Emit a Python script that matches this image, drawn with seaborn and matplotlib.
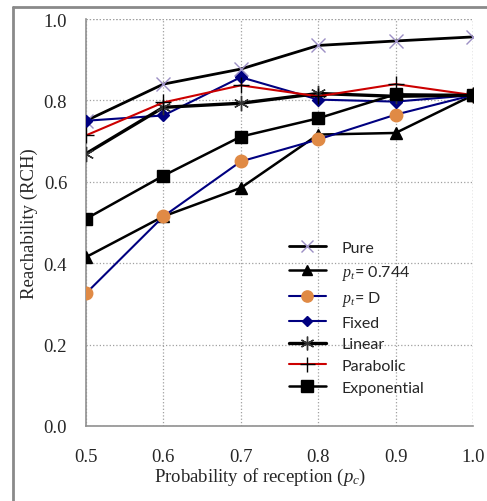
import matplotlib
matplotlib.use('Agg')
import matplotlib.pyplot as plt
import seaborn as sns
import pandas as pd
from matplotlib.lines import Line2D

# data
p_c = [0.5, 0.6, 0.7, 0.8, 0.9, 1.0]
pure = [0.750, 0.840, 0.877, 0.935, 0.946, 0.956]
pt_0744 = [0.415, 0.515, 0.585, 0.716, 0.720, 0.813]
pt_d = [0.326, 0.515, 0.650, 0.704, 0.765, 0.813]
fixed = [0.750, 0.763, 0.857, 0.802, 0.797, 0.813]
linear = [0.669, 0.783, 0.793, 0.817, 0.810, 0.813]
parabolic = [0.714, 0.795, 0.837, 0.810, 0.840, 0.813]
exponential = [0.509, 0.615, 0.711, 0.756, 0.815, 0.813]

series = {
    'Pure': pure,
    '$p_t$= 0.744': pt_0744,
    '$p_t$= D': pt_d,
    'Fixed': fixed,
    'Linear': linear,
    'Parabolic': parabolic,
    'Exponential': exponential,
}

styles = {
    'Pure': dict(color='black', lw=2.0, marker='x', ms=10, mec='#9c8fc4', mfc='#9c8fc4', mew=1.0),
    '$p_t$= 0.744': dict(color='black', lw=1.8, marker='^', ms=8, mec='black', mfc='black'),
    '$p_t$= D': dict(color='#000080', lw=1.5, marker='o', ms=9, mec='#e08a45', mfc='#e08a45'),
    'Fixed': dict(color='#000080', lw=1.5, marker='D', ms=6, mec='#000080', mfc='#000080'),
    'Linear': dict(color='black', lw=2.4, marker=(6, 2, 0), ms=11, mec='#333333', mew=1.0),
    'Parabolic': dict(color='#cc0000', lw=1.5, marker='+', ms=12, mec='black', mew=1.0),
    'Exponential': dict(color='black', lw=1.8, marker='s', ms=9, mec='black', mfc='black'),
}

df = pd.DataFrame([(k, x, y) for k, v in series.items() for x, y in zip(p_c, v)],
                  columns=['scheme', 'p_c', 'rch'])

sns.set_style('white')
plt.rcParams['font.family'] = ['Liberation Serif', 'DejaVu Serif']
plt.rcParams['mathtext.fontset'] = 'custom'
plt.rcParams['mathtext.it'] = 'Liberation Serif:italic'
plt.rcParams['mathtext.rm'] = 'Liberation Serif'

fig = plt.figure(figsize=(4.87, 5.02), dpi=100)
ax = fig.add_axes([86 / 487, 1 - 427 / 502, 387 / 487, 407 / 502])

handles = []
for name in series:
    st = styles[name]
    sub = df[df['scheme'] == name]
    sns.lineplot(data=sub, x='p_c', y='rch', ax=ax, color=st['color'], linewidth=st['lw'],
                 marker=st['marker'], markersize=st['ms'], markeredgecolor=st['mec'],
                 markerfacecolor=st.get('mfc', st['mec']), markeredgewidth=st.get('mew', 1.0),
                 legend=False, zorder=3)
    handles.append(Line2D([], [], color=st['color'], lw=st['lw'], marker=st['marker'],
                          ms=st['ms'] * 0.9, mec=st['mec'], mfc=st.get('mfc', st['mec']),
                          mew=st.get('mew', 1.0), label=name))

ax.set_xlim(0.5, 1.0)
ax.set_ylim(0.0, 1.0)
ax.set_xticks(p_c)
ax.set_xticklabels(['0.5', '0.6', '0.7', '0.8', '0.9', '1.0'])
ax.set_yticks([0.0, 0.2, 0.4, 0.6, 0.8, 1.0])
ax.set_yticklabels(['0.0', '0.2', '0.4', '0.6', '0.8', '1.0'])
ax.tick_params(axis='x', length=0, pad=16, labelsize=13.5)
ax.tick_params(axis='y', length=0, pad=13.5, labelsize=13.5)

ax.grid(True, color='#a0a0a0', linestyle=':', linewidth=0.9)
for side in ['top', 'right']:
    ax.spines[side].set_visible(False)
for side in ['left', 'bottom']:
    ax.spines[side].set_color('#909090')
    ax.spines[side].set_linewidth(1.2)
ax.axhline(1.0, color='#a0a0a0', linestyle=':', linewidth=0.9)
ax.axvline(1.0, color='#a0a0a0', linestyle=':', linewidth=0.9)

ax.set_xlabel('Probability of reception ($p_c$)', fontsize=13.5)
ax.set_ylabel('Reachability (RCH)', fontsize=13.5)
ax.xaxis.set_label_coords(0.45, -0.097)
ax.yaxis.set_label_coords(-0.125, 0.5)

leg = ax.legend(handles=handles, loc='upper left', bbox_to_anchor=(0.5245, 0.455),
                frameon=False, handlelength=2.3, labelspacing=0.47, handletextpad=1.0,
                borderpad=0, borderaxespad=0,
                prop={'family': ['Lato', 'DejaVu Sans'], 'size': 11.5})

# outer chart frame (top and left edges)
fig.add_artist(Line2D([13 / 487, 1.0], [1 - 8 / 502, 1 - 8 / 502], color='#8a8a8a', lw=2.0))
fig.add_artist(Line2D([13 / 487, 13 / 487], [0.0, 1 - 8 / 502], color='#8a8a8a', lw=2.0))

plt.savefig('out.png', dpi=100)
